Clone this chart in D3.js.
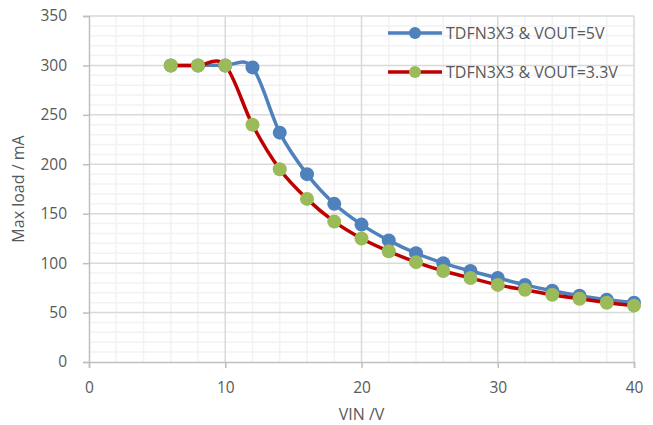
<!DOCTYPE html>
<html>
<head>
<meta charset="utf-8">
<script src="https://cdn.jsdelivr.net/npm/d3@7"></script>
<style>
  body { margin: 0; background: #fff; }
  text { font-family: "Open Sans", "Liberation Sans", sans-serif; fill: #595959; }
</style>
</head>
<body>
<div id="chart"></div>
<script>
// Data
const vin = [6, 8, 10, 12, 14, 16, 18, 20, 22, 24, 26, 28, 30, 32, 34, 36, 38, 40];
const load5v = [300, 300, 300, 298, 232, 190, 160, 139, 123, 110, 100, 92, 85, 78, 72, 67, 63, 60];
const load33v = [300, 300, 300, 240, 195, 165, 142, 125, 112, 101, 92, 85, 78, 73, 68, 64, 60, 57];
const xTicks = [0, 10, 20, 30, 40];
const yTicks = [0, 50, 100, 150, 200, 250, 300, 350];
const seriesNames = ["TDFN3X3 & VOUT=5V", "TDFN3X3 & VOUT=3.3V"];

const width = 653;
const height = 425;
const margin = { left: 89, right: 19, top: 16, bottom: 63 };

const svg = d3.select("#chart").append("svg")
    .attr("width", width)
    .attr("height", height);

const x = d3.scaleLinear().domain([0, 40]).range([margin.left, width - margin.right]);
const y = d3.scaleLinear().domain([0, 350]).range([height - margin.bottom, margin.top]);

// Minor gridlines
svg.append("g").selectAll("line")
    .data(d3.range(0, 351, 10).filter(d => d % 50 !== 0))
    .enter().append("line")
    .attr("x1", x(0)).attr("x2", x(40))
    .attr("y1", d => y(d)).attr("y2", d => y(d))
    .attr("stroke", "#f2f2f2").attr("stroke-width", 1.5);

svg.append("g").selectAll("line")
    .data(d3.range(0, 41, 2).filter(d => d % 10 !== 0))
    .enter().append("line")
    .attr("y1", y(0)).attr("y2", y(350))
    .attr("x1", d => x(d)).attr("x2", d => x(d))
    .attr("stroke", "#f2f2f2").attr("stroke-width", 1.5);

// Major gridlines
svg.append("g").selectAll("line")
    .data(yTicks.slice(1))
    .enter().append("line")
    .attr("x1", x(0)).attr("x2", x(40))
    .attr("y1", d => y(d)).attr("y2", d => y(d))
    .attr("stroke", "#d9d9d9").attr("stroke-width", 1.5);

svg.append("g").selectAll("line")
    .data(xTicks.slice(1))
    .enter().append("line")
    .attr("y1", y(0)).attr("y2", y(350))
    .attr("x1", d => x(d)).attr("x2", d => x(d))
    .attr("stroke", "#d9d9d9").attr("stroke-width", 1.5);

// Axes
const xAxis = svg.append("g")
    .attr("transform", `translate(0,${y(0)})`)
    .call(d3.axisBottom(x).tickValues(xTicks).tickSize(6).tickPadding(14));
const yAxis = svg.append("g")
    .attr("transform", `translate(${x(0)},0)`)
    .call(d3.axisLeft(y).tickValues(yTicks).tickSize(6).tickPadding(16));

[xAxis, yAxis].forEach(a => {
  a.select(".domain").attr("stroke", "#bfbfbf").attr("stroke-width", 1.5);
  a.selectAll(".tick line").attr("stroke", "#bfbfbf").attr("stroke-width", 1.5);
  a.selectAll(".tick text").attr("font-size", 15.5).attr("fill", "#595959")
    .style("font-family", "'Open Sans', 'Liberation Sans', sans-serif");
});

// Axis titles
svg.append("text")
    .attr("x", (x(0) + x(40)) / 2)
    .attr("y", 420)
    .attr("text-anchor", "middle")
    .attr("font-size", 16)
    .text("VIN /V");

svg.append("text")
    .attr("transform", `translate(24,${(y(0) + y(350)) / 2}) rotate(-90)`)
    .attr("text-anchor", "middle")
    .attr("font-size", 16)
    .text("Max load / mA");

const line = d3.line().curve(d3.curveCardinal);

const series = [
  { name: seriesNames[0], values: load5v, stroke: "#4f81bd", fill: "#4f81bd" },
  { name: seriesNames[1], values: load33v, stroke: "#c00000", fill: "#9bbb59" }
];

series.forEach(s => {
  const pts = vin.map((v, i) => [x(v), y(s.values[i])]);
  svg.append("path")
      .attr("d", line(pts))
      .attr("fill", "none")
      .attr("stroke", s.stroke)
      .attr("stroke-width", 3.5);
  svg.append("g").selectAll("circle")
      .data(pts)
      .enter().append("circle")
      .attr("cx", d => d[0]).attr("cy", d => d[1])
      .attr("r", 7)
      .attr("fill", s.fill);
});

// Legend
const legend = svg.append("g");
series.forEach((s, i) => {
  const ly = 33 + i * 39;
  legend.append("line")
      .attr("x1", 388).attr("x2", 442)
      .attr("y1", ly).attr("y2", ly)
      .attr("stroke", s.stroke).attr("stroke-width", 3.5);
  legend.append("circle")
      .attr("cx", 415).attr("cy", ly).attr("r", 6)
      .attr("fill", s.fill);
  legend.append("text")
      .attr("x", 446).attr("y", ly + 6)
      .attr("font-size", 16)
      .text(s.name);
});
</script>
</body>
</html>
